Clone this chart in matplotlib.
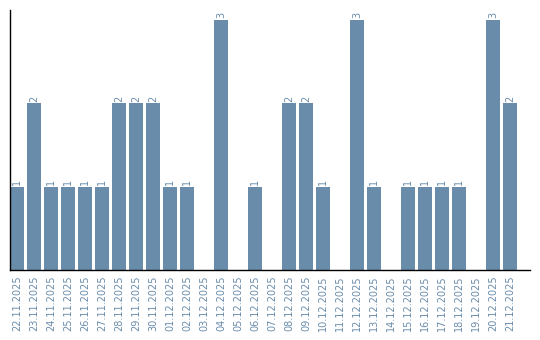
import matplotlib
matplotlib.use("Agg")
import matplotlib.pyplot as plt

dates = ["22.11.2025", "23.11.2025", "24.11.2025", "25.11.2025", "26.11.2025",
         "27.11.2025", "28.11.2025", "29.11.2025", "30.11.2025", "01.12.2025",
         "02.12.2025", "03.12.2025", "04.12.2025", "05.12.2025", "06.12.2025",
         "07.12.2025", "08.12.2025", "09.12.2025", "10.12.2025", "11.12.2025",
         "12.12.2025", "13.12.2025", "14.12.2025", "15.12.2025", "16.12.2025",
         "17.12.2025", "18.12.2025", "19.12.2025", "20.12.2025", "21.12.2025"]
values = [1, 2, 1, 1, 1, 1, 2, 2, 2, 1, 1, 0, 3, 0, 1,
          0, 2, 2, 1, 0, 3, 1, 0, 1, 1, 1, 1, 0, 3, 2]

color = "#6A8CAB"

fig = plt.figure(figsize=(5.4, 3.4), dpi=100)
ax = fig.add_axes([10/540, 70/340, 520/540, 260/340])
x = list(range(len(dates)))
ax.bar(x, values, width=0.82, color=color)
for xi, v in zip(x, values):
    if v > 0:
        ax.text(xi, v + 0.02, str(v), rotation=90, ha="center", va="bottom",
                fontsize=7, color=color)
ax.set_xlim(-0.41, 30.18)
ax.set_ylim(0, 3.12)
ax.set_xticks(x)
ax.set_xticklabels(dates, rotation=90, fontsize=7, color=color)
ax.tick_params(axis="x", length=0, pad=4)
ax.set_yticks([])
ax.spines["top"].set_visible(False)
ax.spines["right"].set_visible(False)
ax.spines["left"].set_linewidth(1)
ax.spines["bottom"].set_linewidth(1)
fig.savefig("out.png", dpi=100)
